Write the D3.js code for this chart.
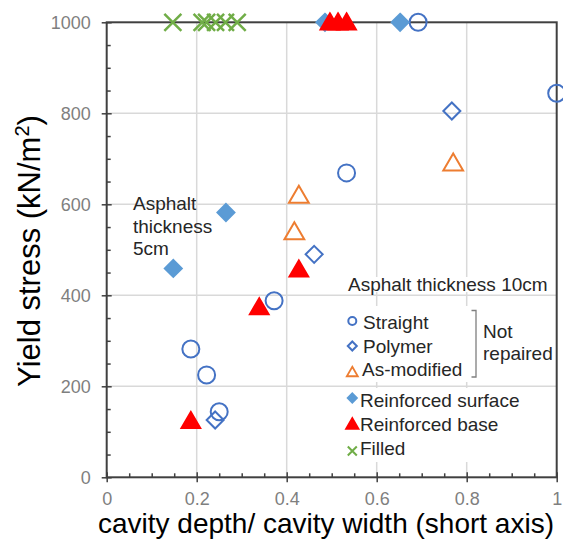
<!DOCTYPE html>
<html lang="en">
<head>
<meta charset="UTF-8">
<script src="https://d3js.org/d3.v7.min.js"></script>
<title>Yield stress vs cavity depth</title>
<style>
  html, body { margin: 0; padding: 0; background: #fff; }
  svg { display: block; }
  text { font-family: "Liberation Sans", Arial, sans-serif; }
  .tick text { font-size: 18px; fill: #7f7f7f; }
  .legend text { font-size: 19px; fill: #262626; }
</style>
</head>
<body>
<script>
// data: [cavity depth / width, yield stress]
const straight = [[0.692, 1000], [1.0, 844], [0.533, 669], [0.372, 388], [0.187, 282], [0.222, 225], [0.25, 144]];
const polymer = [[0.767, 805], [0.461, 490], [0.241, 126]];
const asModified = [[0.770, 691], [0.427, 620], [0.417, 540]];
const reinfSurface = [[0.485, 1000], [0.652, 1000], [0.265, 582], [0.148, 459]];
const reinfBase = [[0.496, 1000], [0.514, 1000], [0.533, 1000], [0.427, 457], [0.339, 374], [0.187, 124]];
const filled = [[0.147, 1000], [0.212, 1000], [0.222, 1000], [0.242, 1000], [0.264, 1000], [0.29, 1000]];

const xMajor = [0, 0.2, 0.4, 0.6, 0.8, 1];
const xLabels = ["0", "0.2", "0.4", "0.6", "0.8", "1"];
const yMajor = [0, 200, 400, 600, 800, 1000];
const yLabels = ["0", "200", "400", "600", "800", "1000"];

const width = 563, height = 545;
const margin = { top: 22.3, right: 6.3, bottom: 67.7, left: 106.7 };

const svg = d3.select("body").append("svg")
  .attr("width", width)
  .attr("height", height);

const x = d3.scaleLinear().domain([0, 1]).range([margin.left, width - margin.right]);
const y = d3.scaleLinear().domain([0, 1000]).range([height - margin.bottom, margin.top]);

const xMinor = d3.range(0, 1.0001, 0.05).filter(v => !xMajor.some(m => Math.abs(m - v) < 1e-6));
const yMinor = d3.range(0, 1001, 50).filter(v => v % 200 !== 0);

// gridlines
svg.append("g").selectAll("line")
  .data(xMajor.slice(1, -1))
  .join("line")
  .attr("x1", d => x(d)).attr("x2", d => x(d))
  .attr("y1", y(0)).attr("y2", y(1000))
  .attr("stroke", "#d9d9d9").attr("stroke-width", 1.5);

svg.append("g").selectAll("line")
  .data(yMajor.slice(1, -1))
  .join("line")
  .attr("x1", x(0)).attr("x2", x(1))
  .attr("y1", d => y(d)).attr("y2", d => y(d))
  .attr("stroke", "#d9d9d9").attr("stroke-width", 1.5);

// legend backgrounds (white boxes behind the text blocks)
const bg = svg.append("g").attr("fill", "#fff");
bg.append("rect").attr("x", 345).attr("y", 277).attr("width", 208).attr("height", 15);
bg.append("rect").attr("x", 345).attr("y", 306).attr("width", 135).attr("height", 76);
bg.append("rect").attr("x", 480).attr("y", 318).attr("width", 75).attr("height", 47);
bg.append("rect").attr("x", 345).attr("y", 388).attr("width", 210).attr("height", 74);

// axes
const xAxis = svg.append("g")
  .attr("transform", `translate(0,${y(0)})`)
  .call(d3.axisBottom(x).tickValues(xMajor).tickFormat((d, i) => xLabels[i]).tickSize(5).tickPadding(10));
xAxis.select(".domain").remove();
xAxis.selectAll(".tick line").attr("y1", -5).attr("y2", 5).attr("stroke", "#404040").attr("stroke-width", 1.5);

svg.append("g")
  .attr("transform", `translate(0,${y(0)})`)
  .call(d3.axisBottom(x).tickValues(xMinor).tickSize(-4).tickFormat(""))
  .call(g => g.select(".domain").remove())
  .call(g => g.selectAll(".tick line").attr("stroke", "#404040").attr("stroke-width", 1.5));

const yAxis = svg.append("g")
  .attr("transform", `translate(${x(0)},0)`)
  .call(d3.axisLeft(y).tickValues(yMajor).tickFormat((d, i) => yLabels[i]).tickSize(5).tickPadding(11));
yAxis.select(".domain").remove();
yAxis.selectAll(".tick line").attr("x1", -5).attr("x2", 5).attr("stroke", "#404040").attr("stroke-width", 1.5);

svg.append("g")
  .attr("transform", `translate(${x(0)},0)`)
  .call(d3.axisLeft(y).tickValues(yMinor).tickSize(-4).tickFormat(""))
  .call(g => g.select(".domain").remove())
  .call(g => g.selectAll(".tick line").attr("stroke", "#404040").attr("stroke-width", 1.5));

// frame
svg.append("rect")
  .attr("x", x(0)).attr("y", y(1000))
  .attr("width", x(1) - x(0)).attr("height", y(0) - y(1000))
  .attr("fill", "none").attr("stroke", "#404040").attr("stroke-width", 2);

// marker shapes
const shapes = {
  circle: r => `M${r},0A${r},${r} 0 1,1 ${-r},0A${r},${r} 0 1,1 ${r},0Z`,
  diamond: r => `M0,${-r}L${r},0L0,${r}L${-r},0Z`,
  triangle: r => `M0,${-r * 1.05}L${r * 1.1},${r * 0.85}L${-r * 1.1},${r * 0.85}Z`,
  cross: r => `M${-r},${-r}L${r},${r}M${-r},${r}L${r},${-r}`
};

const series = [
  { name: "Straight", data: straight, shape: "circle", fill: "none", stroke: "#4472c4", r: 8.5, lr: 4 },
  { name: "Polymer", data: polymer, shape: "diamond", fill: "none", stroke: "#4472c4", r: 8.5, lr: 4.5 },
  { name: "As-modified", data: asModified, shape: "triangle", fill: "none", stroke: "#ed7d31", r: 9, lr: 5 },
  { name: "Reinforced surface", data: reinfSurface, shape: "diamond", fill: "#5b9bd5", stroke: "#5b9bd5", r: 8.5, lr: 4.5 },
  { name: "Reinforced base", data: reinfBase, shape: "triangle", fill: "#ff0000", stroke: "#ff0000", r: 8.5, lr: 5.5 },
  { name: "Filled", data: filled, shape: "cross", fill: "none", stroke: "#70ad47", r: 8.5, lr: 4.5 }
];

const drawOrder = [5, 0, 1, 2, 3, 4];
drawOrder.forEach(k => {
  const s = series[k];
  svg.append("g").selectAll("path")
    .data(s.data)
    .join("path")
    .attr("transform", d => `translate(${x(d[0])},${y(d[1])})`)
    .attr("d", shapes[s.shape](s.r))
    .attr("fill", s.fill)
    .attr("stroke", s.stroke)
    .attr("stroke-width", s.shape === "cross" ? 2.5 : 2)
    .attr("stroke-linejoin", "miter");
});

// legend
const legend = svg.append("g").attr("class", "legend");
legend.append("text").attr("x", 348).attr("y", 290.5).text("Asphalt thickness 10cm");

const legendRows = [
  { i: 0, my: 321, ty: 328.5, tx: 363 },
  { i: 1, my: 346, ty: 353, tx: 363 },
  { i: 2, my: 372, ty: 375.5, tx: 362 },
  { i: 3, my: 398, ty: 407, tx: 360 },
  { i: 4, my: 424, ty: 431, tx: 360 },
  { i: 5, my: 451, ty: 455, tx: 360 }
];
legendRows.forEach(row => {
  const s = series[row.i];
  legend.append("path")
    .attr("transform", `translate(352.3,${row.my})`)
    .attr("d", shapes[s.shape](s.lr))
    .attr("fill", s.fill)
    .attr("stroke", s.stroke)
    .attr("stroke-width", s.shape === "triangle" && s.fill === "none" ? 1.8 : 2);
  legend.append("text").attr("x", row.tx).attr("y", row.ty).text(s.name);
});

// bracket for the not repaired group
legend.append("path")
  .attr("d", "M471.5,310.5H476V377H471.5")
  .attr("fill", "none").attr("stroke", "#7f7f7f").attr("stroke-width", 1.3);
legend.append("text").attr("x", 483).attr("y", 337.5).text("Not");
legend.append("text").attr("x", 483).attr("y", 360).text("repaired");

// annotation for the 5cm group
const note = svg.append("text").attr("font-size", 19).attr("fill", "#262626");
["Asphalt", "thickness", "5cm"].forEach((t, i) => {
  note.append("tspan").attr("x", 133).attr("y", 210 + i * 22.5).text(t);
});

// axis titles
svg.append("text")
  .attr("x", 326).attr("y", 533)
  .attr("text-anchor", "middle")
  .attr("font-size", 28).attr("fill", "#000")
  .text("cavity depth/ cavity width (short axis)");

const yTitle = svg.append("text")
  .attr("transform", "translate(40,251) rotate(-90)")
  .attr("text-anchor", "middle")
  .attr("font-size", 31).attr("fill", "#000");
yTitle.append("tspan").text("Yield stress (kN/m");
yTitle.append("tspan").attr("font-size", 20).attr("dy", -11).text("2");
yTitle.append("tspan").attr("dy", 11).text(")");
</script>
</body>
</html>
